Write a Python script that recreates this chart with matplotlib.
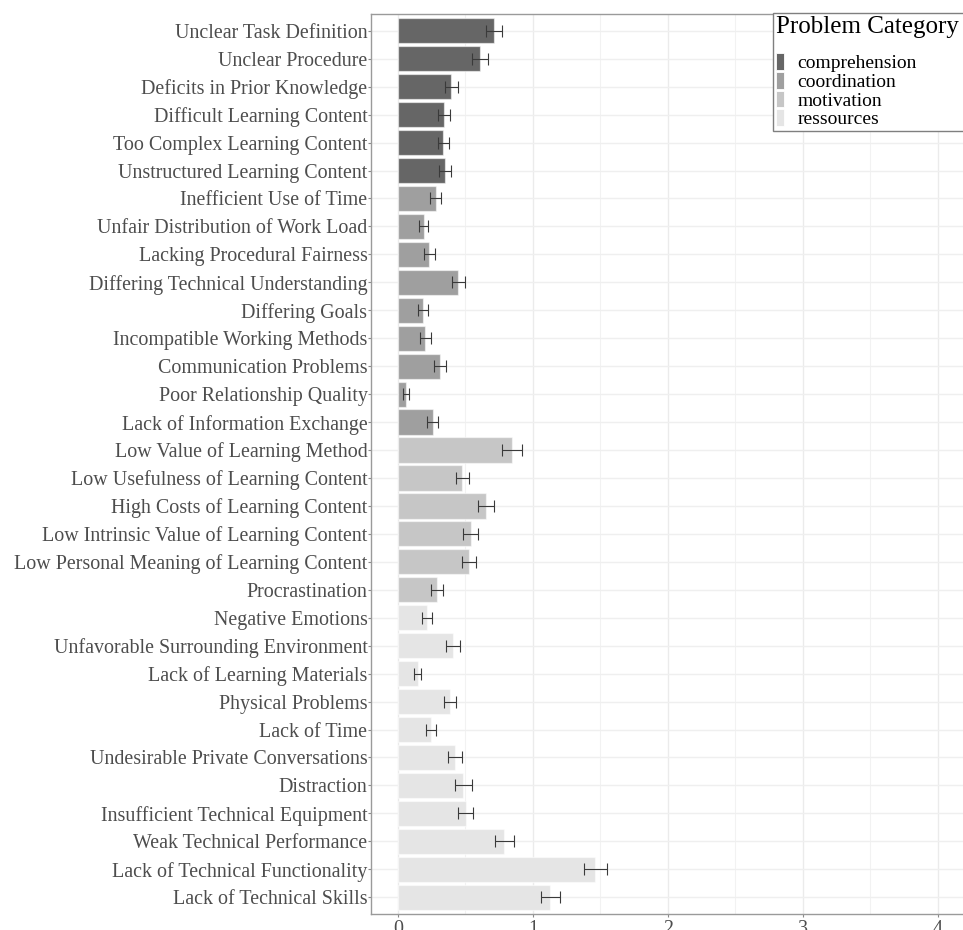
import matplotlib
matplotlib.use("Agg")
import matplotlib.pyplot as plt
from matplotlib.patches import Patch

# Problems, listed top to bottom
problems = [
    "Unclear Task Definition", "Unclear Procedure", "Deficits in Prior Knowledge",
    "Difficult Learning Content", "Too Complex Learning Content", "Unstructured Learning Content",
    "Inefficient Use of Time", "Unfair Distribution of Work Load", "Lacking Procedural Fairness",
    "Differing Technical Understanding", "Differing Goals", "Incompatible Working Methods",
    "Communication Problems", "Poor Relationship Quality", "Lack of Information Exchange",
    "Low Value of Learning Method", "Low Usefulness of Learning Content",
    "High Costs of Learning Content", "Low Intrinsic Value of Learning Content",
    "Low Personal Meaning of Learning Content", "Procrastination",
    "Negative Emotions", "Unfavorable Surrounding Environment", "Lack of Learning Materials",
    "Physical Problems", "Lack of Time", "Undesirable Private Conversations", "Distraction",
    "Insufficient Technical Equipment", "Weak Technical Performance",
    "Lack of Technical Functionality", "Lack of Technical Skills",
]

means = [
    0.714, 0.608, 0.396, 0.341, 0.336, 0.346,
    0.280, 0.191, 0.233, 0.448, 0.186, 0.203, 0.312, 0.059, 0.257,
    0.846, 0.477, 0.653, 0.539, 0.527, 0.292,
    0.215, 0.406, 0.146, 0.384, 0.243, 0.423, 0.485, 0.502, 0.788, 1.463, 1.128,
]

std_errors = [
    0.059, 0.059, 0.046, 0.041, 0.041, 0.044,
    0.041, 0.033, 0.038, 0.048, 0.038, 0.038, 0.046, 0.021, 0.042,
    0.074, 0.049, 0.059, 0.057, 0.054, 0.044,
    0.037, 0.051, 0.028, 0.046, 0.038, 0.052, 0.061, 0.057, 0.068, 0.086, 0.071,
]

groups = (["comprehension"] * 6 + ["coordination"] * 9 +
          ["motivation"] * 6 + ["ressources"] * 11)

category_names = ["comprehension", "coordination", "motivation", "ressources"]
category_colors = ["#666666", "#9F9F9F", "#C6C6C6", "#E5E5E5"]
color_of = dict(zip(category_names, category_colors))

x_ticks = [0, 1, 2, 3, 4]

serif = ["Liberation Serif", "DejaVu Serif"]
plt.rcParams["font.family"] = serif

fig = plt.figure(figsize=(9.63, 9.30), dpi=100)
ax = fig.add_axes([371 / 963, 1 - 914 / 930, (963 - 371) / 963 + 0.002, 900 / 930])

n = len(problems)
ypos = [n - 1 - i for i in range(n)]
bar_colors = [color_of[g] for g in groups]

# grid
ax.set_axisbelow(True)
for v in [0.5, 1.5, 2.5, 3.5]:
    ax.axvline(v, color="#F2F2F2", lw=0.8, zorder=0)
for v in x_ticks:
    ax.axvline(v, color="#EBEBEB", lw=1.0, zorder=0)
for y in ypos:
    ax.axhline(y, color="#EFEFEF", lw=1.0, zorder=0)

ax.barh(ypos, means, height=0.9, color=bar_colors,
        edgecolor=(1, 1, 1, 0.55), linewidth=0.9, zorder=2)
ax.errorbar(means, ypos, xerr=std_errors, fmt="none", ecolor="#3a3a3a",
            elinewidth=0.8, capsize=4, capthick=0.8, zorder=3)

ax.set_xlim(-0.2, 4.2)
ax.set_ylim(-0.6, n - 1 + 0.6)
ax.set_xticks(x_ticks)
ax.set_xticklabels([str(t) for t in x_ticks])
ax.set_yticks(ypos)
ax.set_yticklabels(problems)

ax.tick_params(axis="both", colors="#8a8a8a", length=2.2, width=0.8,
               labelsize=14.4, labelcolor="#4D4D4D")
ax.tick_params(axis="y", pad=0.4)
ax.tick_params(axis="x", pad=2)

for side in ["left", "top", "bottom", "right"]:
    ax.spines[side].set_color("#9a9a9a")
    ax.spines[side].set_linewidth(1.0)

# legend box runs past the right edge of the canvas
handles = [Patch(facecolor=c, edgecolor="white", linewidth=0.6) for c in category_colors]
leg = fig.legend(handles, category_names, title="Problem Category",
                 loc="upper left", bbox_to_anchor=(773 / 963, 1 - 13 / 930, 0.23, 0),
                 mode="expand",
                 frameon=True, fancybox=False, framealpha=1,
                 fontsize=14, title_fontsize=18, alignment="left",
                 handlelength=0.43, handleheight=0.95, labelspacing=-0.02,
                 handletextpad=0.67, borderpad=0.15, borderaxespad=0)
leg.get_frame().set_edgecolor("#7f7f7f")
leg.get_frame().set_linewidth(1.0)
leg._legend_box.sep = 11

fig.savefig("out.png", dpi=100)
